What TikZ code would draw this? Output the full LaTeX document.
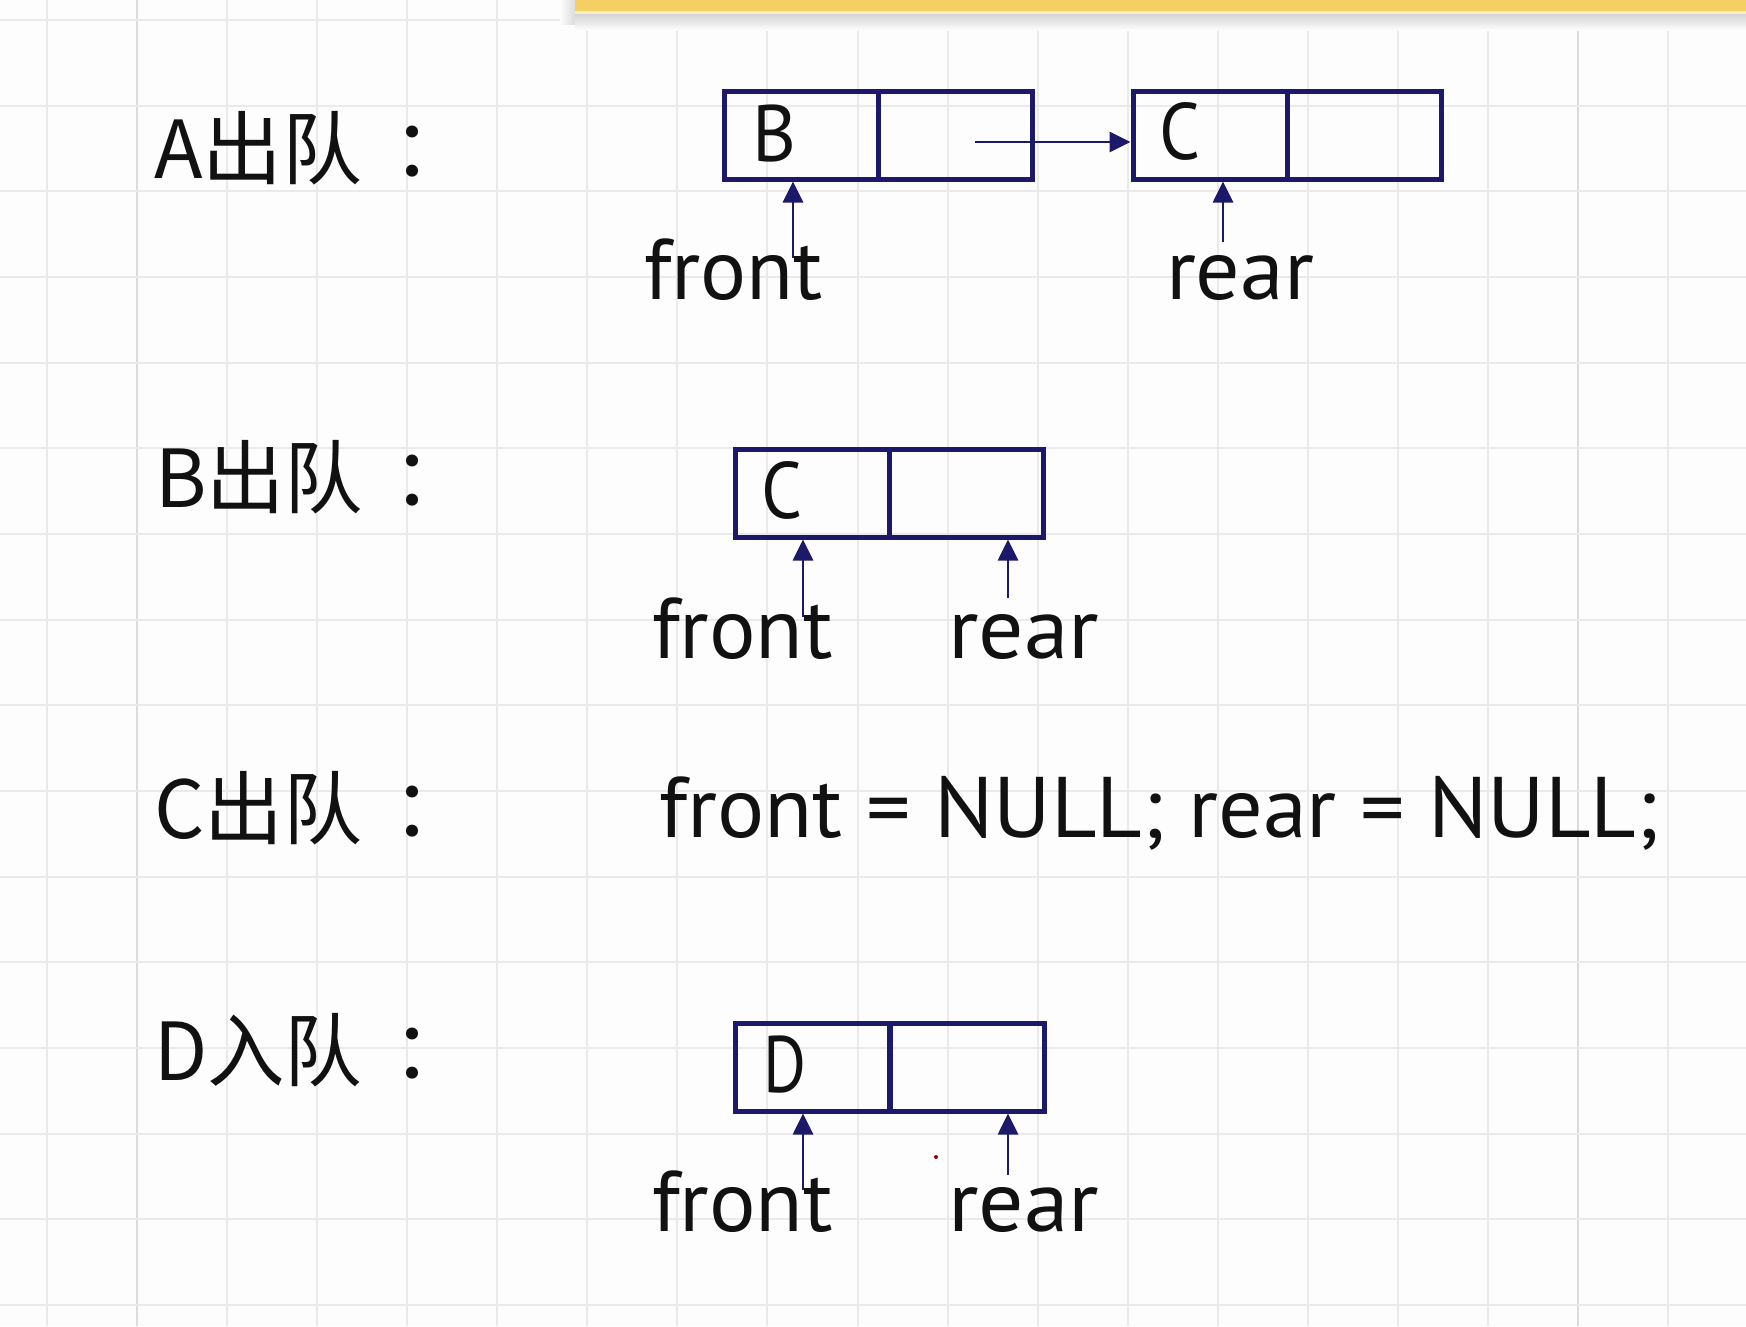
\documentclass[tikz,border=0pt]{standalone}
\usepackage{fontspec}
\usepackage{graphicx}
\setmainfont{PT Sans}
\newfontfamily\cjk{Noto Sans CJK SC}
\newfontfamily\cjktc{Noto Sans CJK TC}
\usetikzlibrary{arrows.meta}
\definecolor{navy}{RGB}{28,24,106}
\definecolor{gridc}{RGB}{234,234,234}
\definecolor{gridd}{RGB}{220,220,220}
\definecolor{bgc}{RGB}{253,253,253}
\definecolor{barY}{RGB}{244,208,100}
\definecolor{barL}{RGB}{250,236,190}
\definecolor{inkc}{RGB}{17,17,17}
\newcommand\fsz[1]{\fontsize{#1}{#1}\selectfont}
\newcommand\fitw[2]{\resizebox{#1}{\height}{#2}}
\begin{document}
\begin{tikzpicture}[x=1pt,y=-1pt,
  txt/.style={inner sep=0pt,outer sep=0pt,anchor=base west,text=inkc},
  lab/.style={inner sep=0pt,outer sep=0pt,anchor=west,text=inkc},
  colon/.style={inner sep=0pt,outer sep=0pt,anchor=center,text=inkc},
  cellbox/.style={draw=navy,line width=5pt,inner sep=0pt,outer sep=0pt,
    minimum width=154pt,minimum height=88pt,anchor=north west},
  ptr/.style={draw=navy,line width=2.8pt,-{Triangle[length=21pt,width=20pt]},shorten >=2.5pt},
]
\useasboundingbox (0,0) rectangle (1746,1326);
\fill[bgc] (0,0) rectangle (1746,1326);
% grid
\foreach \k in {0,...,18}{
  \ifnum\k=1 \def\gc{gridd}\else\ifnum\k=17 \def\gc{gridd}\else\def\gc{gridc}\fi\fi
  \draw[\gc,line width=2pt] ({47+90.06*\k},0) -- ({47+90.06*\k},1326);
}
\foreach \k in {0,...,15}{
  \draw[gridc,line width=2pt] (0,{20+85.67*\k}) -- (1746,{20+85.67*\k});
}
% top bar
\shade[left color=bgc,right color=black!14] (560,0) rectangle (575,24);
\shade[top color=black!18,bottom color=bgc] (575,13) rectangle (1746,30);
\fill[barY] (575,0) rectangle (1746,11);
\fill[barL] (575,11) rectangle (1746,14);

% ---------- row 1: A出队
\node[lab] (l1) at (154,148) {\cjk\fsz{80}\fitw{208pt}{A出队}};
\node[colon] (c1) at (412,154) {\cjktc\fsz{80}：};
\node[cellbox] (bL) at (724,91) {};
\node[cellbox] (bR) at (878,91) {};
\node[cellbox] (cL) at (1133,91) {};
\node[cellbox] (cR) at (1287,91) {};
\node[txt] (tB) at (752,161) {\fsz{80}\fitw{44pt}{B}};
\node[txt] (tC1) at (1159,159) {\fsz{80}\fitw{41pt}{C}};
\node[txt] (fr1) at (644,299) {\fsz{86}\fitw{179pt}{front}};
\node[txt] (re1) at (1166,299) {\fsz{86}\fitw{148pt}{rear}};
\coordinate (n1) at (975,142);
\draw[ptr] (n1) -- (n1 -| cL.west);
\coordinate (f1) at (793,258);
\draw[ptr] (f1) -- (f1 |- bL.south);
\coordinate (r1) at (1223,242);
\draw[ptr] (r1) -- (r1 |- cL.south);

% ---------- row 2: B出队
\node[lab] (l2) at (155,477) {\cjk\fsz{80}\fitw{208pt}{B出队}};
\node[colon] (c2) at (412,483) {\cjktc\fsz{80}：};
\node[cellbox] (dL) at (735,449) {};
\node[cellbox] (dR) at (889,449) {};
\node[txt] (tC2) at (761,518) {\fsz{80}\fitw{41pt}{C}};
\node[txt] (fr2) at (652,658) {\fsz{86}\fitw{181pt}{front}};
\node[txt] (re2) at (948,658) {\fsz{86}\fitw{151pt}{rear}};
\coordinate (f2) at (803,617);
\draw[ptr] (f2) -- (f2 |- dL.south);
\coordinate (r2) at (1008,598);
\draw[ptr] (r2) -- (r2 |- dR.south);

% ---------- row 3: C出队
\node[lab] (l3) at (154,808) {\cjk\fsz{80}\fitw{208pt}{C出队}};
\node[colon] (c3) at (412,814) {\cjktc\fsz{80}：};
\node[txt] (code) at (659,837) {\fsz{86}\fitw{1000pt}{front = NULL; rear = NULL;}};

% ---------- row 4: D入队
\node[lab] (l4) at (154,1050) {\cjk\fsz{80}\fitw{208pt}{D入队}};
\node[colon] (c4) at (412,1056) {\cjktc\fsz{80}：};
\node[cellbox] (eL) at (735,1023) {};
\node[cellbox] (eR) at (890,1023) {};
\node[txt] (tD) at (763,1092) {\fsz{80}\fitw{43pt}{D}};
\node[txt] (fr4) at (652,1231) {\fsz{86}\fitw{181pt}{front}};
\node[txt] (re4) at (948,1231) {\fsz{86}\fitw{151pt}{rear}};
\coordinate (f4) at (803,1190);
\draw[ptr] (f4) -- (f4 |- eL.south);
\coordinate (r4) at (1008,1175);
\draw[ptr] (r4) -- (r4 |- eR.south);
\fill[red!60!black] (936,1157) circle (2pt);
\end{tikzpicture}
\end{document}
